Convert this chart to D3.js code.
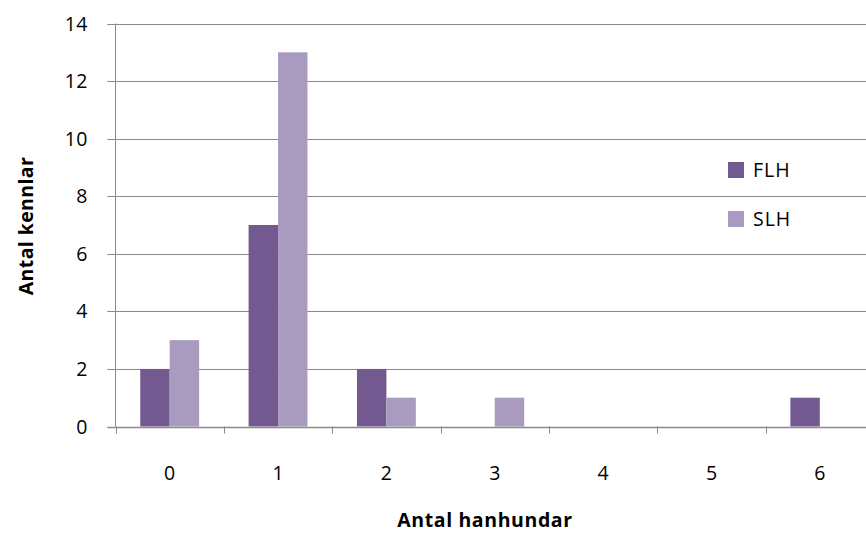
<!DOCTYPE html>
<html><head><meta charset="utf-8">
<script src="https://cdn.jsdelivr.net/npm/d3@7"></script>
<style>body{margin:0;background:#fff}svg{display:block}text{font-family:"Open Sans","DejaVu Sans",sans-serif;fill:#000}</style>
</head><body><svg id="c" width="866" height="533"></svg>
<script>
const categories = ["0","1","2","3","4","5","6"];
const seriesNames = ["FLH","SLH"];
const FLH = [2,7,2,0,0,0,1];
const SLH = [3,13,1,1,0,0,0];
const yTicks = [0,2,4,6,8,10,12,14];
const colors = ["#725A91","#A99BBF"];

const svg = d3.select("#c");
const pLeft = 115.5, pRight = 874, pTop = 23.5, pBottom = 426.5;
const x = d3.scaleBand().domain(categories).range([pLeft, pRight]).paddingInner(0).paddingOuter(0);
const y = d3.scaleLinear().domain([0,14]).range([pBottom, pTop]);
const xs = d3.scaleBand().domain(seriesNames).range([0, x.bandwidth()]).paddingInner(0).paddingOuter(0.84);

// gridlines
svg.append("g").selectAll("line").data(yTicks.filter(d=>d>0)).join("line")
  .attr("x1", pLeft-8).attr("x2", 866).attr("y1", d=>Math.round(y(d))+0.5).attr("y2", d=>Math.round(y(d))+0.5)
  .attr("stroke","#8a8a8a").attr("stroke-width",1);

// bars
const data = [FLH, SLH];
data.forEach((vals, si) => {
  svg.append("g").selectAll("rect").data(vals).join("rect")
    .attr("x", (d,i)=> x(categories[i]) + xs(seriesNames[si]))
    .attr("width", xs.bandwidth())
    .attr("y", d=> y(d))
    .attr("height", d=> y(0)-y(d))
    .attr("fill", colors[si]);
});

// y axis
svg.append("line").attr("x1",pLeft).attr("x2",pLeft).attr("y1",pTop).attr("y2",pBottom).attr("stroke","#8a8a8a");
svg.append("g").selectAll("line").data(yTicks).join("line")
  .attr("x1", pLeft-8).attr("x2", pLeft).attr("y1", d=>Math.round(y(d))+0.5).attr("y2", d=>Math.round(y(d))+0.5).attr("stroke","#8a8a8a");
svg.append("g").selectAll("text").data(yTicks).join("text")
  .attr("x", 88).attr("y", d=>y(d)).attr("dy","0.36em").attr("text-anchor","end")
  .style("font-size","19.5px").style("letter-spacing","0.5px").text(d=>d);

// x axis
svg.append("line").attr("x1",pLeft-8).attr("x2",866).attr("y1",Math.round(pBottom)+0.5).attr("y2",Math.round(pBottom)+0.5).attr("stroke","#8a8a8a").attr("stroke-width",1.5);
const xTickPos = categories.map(c=>x(c)).concat([pRight]);
svg.append("g").selectAll("line").data(xTickPos).join("line")
  .attr("x1", d=>Math.round(d)+0.5).attr("x2", d=>Math.round(d)+0.5).attr("y1", pBottom).attr("y2", pBottom+7).attr("stroke","#8a8a8a");
svg.append("g").selectAll("text").data(categories).join("text")
  .attr("x", d=> x(d)+x.bandwidth()/2).attr("y", 480).attr("text-anchor","middle")
  .style("font-size","19.5px").text(d=>d);

// titles
svg.append("text").attr("x", 485).attr("y", 527).attr("text-anchor","middle")
  .style("font-size","19.5px").style("font-weight","bold").style("letter-spacing","0.6px").text("Antal hanhundar");
svg.append("text").attr("transform","translate(26,226) rotate(-90)").attr("dy","0.36em").attr("text-anchor","middle")
  .style("font-size","19.5px").style("font-weight","bold").style("letter-spacing","0.4px").text("Antal kennlar");

// legend
const lg = svg.append("g");
seriesNames.forEach((n,i)=>{
  lg.append("rect").attr("x",728).attr("y",162+i*49).attr("width",16).attr("height",16).attr("fill",colors[i]);
  lg.append("text").attr("x",753).attr("y",170+i*49).attr("dy","0.36em").style("font-size","19.5px").style("letter-spacing","1px").text(n);
});
</script></body></html>
